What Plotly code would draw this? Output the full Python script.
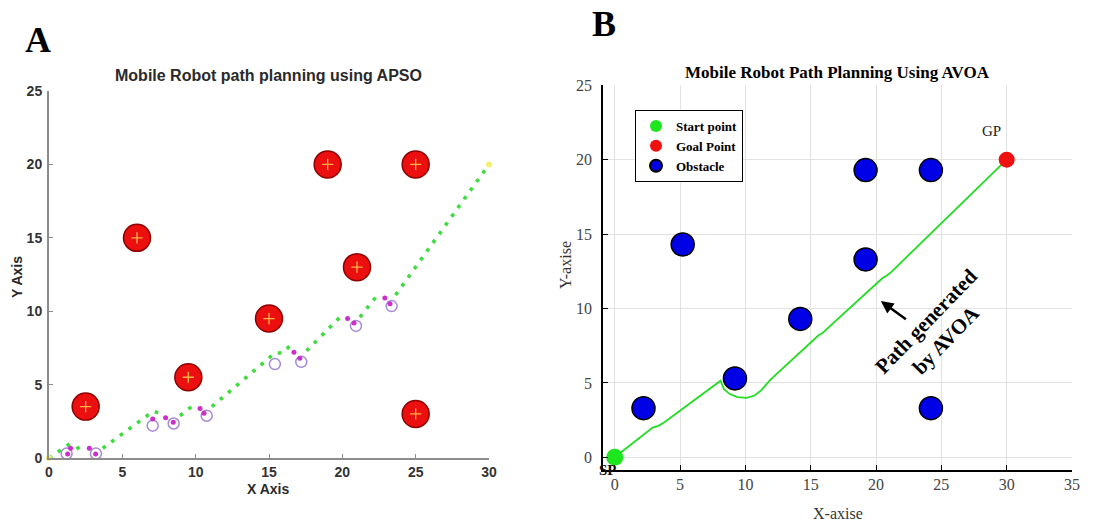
import plotly.graph_objects as go

W, H = 1114, 522

# ---------------- Panel A data (APSO) ----------------
a_obs_x = [2.5, 6, 9.5, 15, 19, 21, 25, 25]
a_obs_y = [3.5, 15, 5.5, 9.5, 20, 13, 20, 3]

a_path_x = [0, 1.1, 1.7, None, 1.88, 2.45, None, 3.66, 7.1, 7.64, None,
            8.93, 10.07, None, 11.1, 15.4, 15.9, 16.43, None,
            17.56, 20.0, None, 21.2, 22.56, None, 23.63, 30]
a_path_y = [0, 0.77, 1.16, None, 0.61, 1.07, None, 0.66, 3.18, 3.04, None,
            2.88, 3.77, None, 3.5, 7.15, 7.15, 7.63, None,
            7.3, 9.76, None, 9.6, 11.3, None, 11.1, 20]

a_dip_x = [1.27, 1.47, 2.75, 3.18, 7.07, 7.95, 8.47, 10.3, 10.57,
           16.7, 17.1, 20.36, 20.8, 22.9, 23.25]
a_dip_y = [0.27, 0.66, 0.66, 0.27, 2.66, 2.75, 2.43, 3.38, 3.04,
           7.2, 6.8, 9.5, 9.2, 10.9, 10.5]

a_circ_x = [1.2, 3.2, 7.07, 8.5, 10.75, 15.4, 17.2, 20.93, 23.36]
a_circ_y = [0.3, 0.3, 2.2, 2.35, 2.88, 6.4, 6.55, 9.0, 10.35]

a_end_x = [0, 30]
a_end_y = [0, 20]

a_ticks = [0, 5, 10, 15, 20, 25, 30]

# ---------------- Panel B data (AVOA) ----------------
b_obs_x = [2.2, 5.2, 9.2, 14.2, 19.2, 19.2, 24.2, 24.2]
b_obs_y = [3.3, 14.3, 5.3, 9.3, 13.3, 19.3, 19.3, 3.3]

b_path_x = [0, 2.9, 3.3, 3.8, 8.1, 8.35, 8.8, 9.4, 10.1, 10.7, 11.2, 11.9,
            15.6, 15.9, 16.2, 20.5, 20.8, 21.1, 30]
b_path_y = [0, 2.0, 2.1, 2.35, 5.15, 4.6, 4.25, 4.05, 4.0, 4.15, 4.5, 5.2,
            8.2, 8.35, 8.6, 12.05, 12.2, 12.4, 20]

b_start = ([0], [0])
b_goal = ([30], [20])

b_xticks = [0, 5, 10, 15, 20, 25, 30, 35]
b_yticks = [0, 5, 10, 15, 20, 25]

SANS = "Liberation Sans, Arial, sans-serif"
SERIF = "Liberation Serif, Times New Roman, serif"

fig = go.Figure()

# ---- Panel A traces ----
fig.add_trace(go.Scatter(
    x=a_path_x, y=a_path_y, mode="lines", xaxis="x", yaxis="y",
    line=dict(color="#3fdc3f", width=3.6, dash="3.6px,7.1px"),
    showlegend=False, hoverinfo="skip", cliponaxis=False))
fig.add_trace(go.Scatter(
    x=a_circ_x, y=a_circ_y, mode="markers", xaxis="x", yaxis="y",
    marker=dict(size=11, color="rgba(0,0,0,0)",
                line=dict(color="#a58ad8", width=1.5)),
    showlegend=False, cliponaxis=False))
fig.add_trace(go.Scatter(
    x=a_dip_x, y=a_dip_y, mode="markers", xaxis="x", yaxis="y",
    marker=dict(size=5, color="#cc2fcc"),
    showlegend=False, cliponaxis=False))
fig.add_trace(go.Scatter(
    x=a_obs_x, y=a_obs_y, mode="markers", xaxis="x", yaxis="y",
    marker=dict(size=27, color="#ec0f0f", line=dict(color="#8e0000", width=1.5)),
    showlegend=False))
fig.add_trace(go.Scatter(
    x=a_obs_x, y=a_obs_y, mode="markers", xaxis="x", yaxis="y",
    marker=dict(size=8, symbol="cross-thin", line=dict(color="#ffb347", width=1.3)),
    showlegend=False))
fig.add_trace(go.Scatter(
    x=a_end_x, y=a_end_y, mode="markers", xaxis="x", yaxis="y",
    marker=dict(size=6, color="#f2f070"),
    showlegend=False, cliponaxis=False))

# ---- Panel B traces ----
fig.add_trace(go.Scatter(
    x=b_path_x, y=b_path_y, mode="lines", xaxis="x2", yaxis="y2",
    line=dict(color="#22dd22", width=1.8),
    showlegend=False, hoverinfo="skip"))
fig.add_trace(go.Scatter(
    x=b_start[0], y=b_start[1], mode="markers", xaxis="x2", yaxis="y2",
    name="Start point", marker=dict(size=17, color="#1ee61e"),
    cliponaxis=False))
fig.add_trace(go.Scatter(
    x=b_goal[0], y=b_goal[1], mode="markers", xaxis="x2", yaxis="y2",
    name="Goal Point", marker=dict(size=16, color="#f01010"),
    cliponaxis=False))
fig.add_trace(go.Scatter(
    x=b_obs_x, y=b_obs_y, mode="markers", xaxis="x2", yaxis="y2",
    name="Obstacle", marker=dict(size=23, color="#0000e6",
                                 line=dict(color="#000000", width=1.5))))

def px_x(p):
    return p / W

def px_y(p):
    return 1 - p / H

axA = dict(showline=True, linecolor="#8c8c8c", linewidth=2, ticks="inside",
           ticklen=4, tickcolor="#8c8c8c", showgrid=False, zeroline=False,
           automargin=False,
           tickfont=dict(family=SANS, size=14, color="#333333", weight="bold"),
           mirror=False)
axB = dict(showline=True, linecolor="#000000", linewidth=1.5, ticks="inside",
           ticklen=5, tickcolor="#000000", showgrid=True, gridcolor="#e2e2e2",
           gridwidth=1, zeroline=False, automargin=False,
           tickfont=dict(family=SERIF, size=16, color="#444444"), mirror=False)

fig.update_layout(
    width=W, height=H, margin=dict(l=0, r=0, t=0, b=0, autoexpand=False),
    plot_bgcolor="white", paper_bgcolor="white",
    xaxis=dict(axA, domain=[px_x(49), px_x(489)], range=[0, 30],
               tickvals=a_ticks, anchor="y"),
    yaxis=dict(axA, domain=[px_y(458), px_y(91)], range=[0, 25],
               tickvals=a_ticks[:6], anchor="x", ticklabelstandoff=2),
    xaxis2=dict(axB, domain=[px_x(603), px_x(1072)], range=[-0.9, 35],
                tickvals=b_xticks, anchor="y2"),
    yaxis2=dict(axB, domain=[px_y(469.5), px_y(85.3)], range=[-0.82, 25],
                tickvals=b_yticks, anchor="x2", ticklabelstandoff=6),
    showlegend=True,
    legend=dict(x=px_x(635), y=px_y(110), xanchor="left", yanchor="top",
                bordercolor="#000000", borderwidth=1, bgcolor="white",
                font=dict(family=SERIF, size=13, color="#000000", weight="bold"),
                itemsizing="constant", tracegroupgap=0),
)

def pa(text, x, y, **kw):
    d = dict(text=text, x=px_x(x), y=px_y(y), xref="paper", yref="paper",
             xanchor="center", yanchor="middle", showarrow=False)
    d.update(kw)
    return d

ann = []
ann.append(pa("A", 38, 40, font=dict(family=SERIF, size=36, color="#000", weight="bold")))
ann.append(pa("B", 604, 24, font=dict(family=SERIF, size=36, color="#000", weight="bold")))
ann.append(pa("Mobile Robot path planning using APSO", 268, 75,
              font=dict(family=SANS, size=16, color="#2a2a2a", weight="bold")))
ann.append(pa("X Axis", 268, 489,
              font=dict(family=SANS, size=14, color="#2a2a2a", weight="bold")))
ann.append(pa("Y Axis", 17, 277, textangle=-90,
              font=dict(family=SANS, size=14, color="#2a2a2a", weight="bold")))
ann.append(pa("Mobile Robot Path Planning Using AVOA", 837, 72,
              font=dict(family=SERIF, size=17, color="#000", weight="bold")))
ann.append(pa("X-axise", 838, 513, font=dict(family=SERIF, size=16, color="#333")))
ann.append(pa("Y-axise", 565, 265, textangle=-90,
              font=dict(family=SERIF, size=16, color="#333")))
ann.append(pa("SP", 608, 470, font=dict(family=SERIF, size=15, color="#111", weight="bold")))
ann.append(dict(text="GP", x=28.8, y=21.9, xref="x2", yref="y2", showarrow=False,
                xanchor="center", yanchor="middle",
                font=dict(family=SERIF, size=15, color="#222")))
ann.append(dict(text="", x=20.37, y=10.5, ax=22.4, ay=9.2, xref="x2", yref="y2",
                axref="x2", ayref="y2", showarrow=True, arrowhead=2, arrowsize=1,
                arrowwidth=2.5, arrowcolor="#000"))
ann.append(dict(text="Path generated<br>by AVOA", x=24.6, y=8.5, xref="x2", yref="y2",
                showarrow=False, textangle=-46, xanchor="center", yanchor="middle",
                font=dict(family=SERIF, size=21, color="#000", weight="bold")))
fig.update_layout(annotations=ann)

fig.write_html("out.html")
